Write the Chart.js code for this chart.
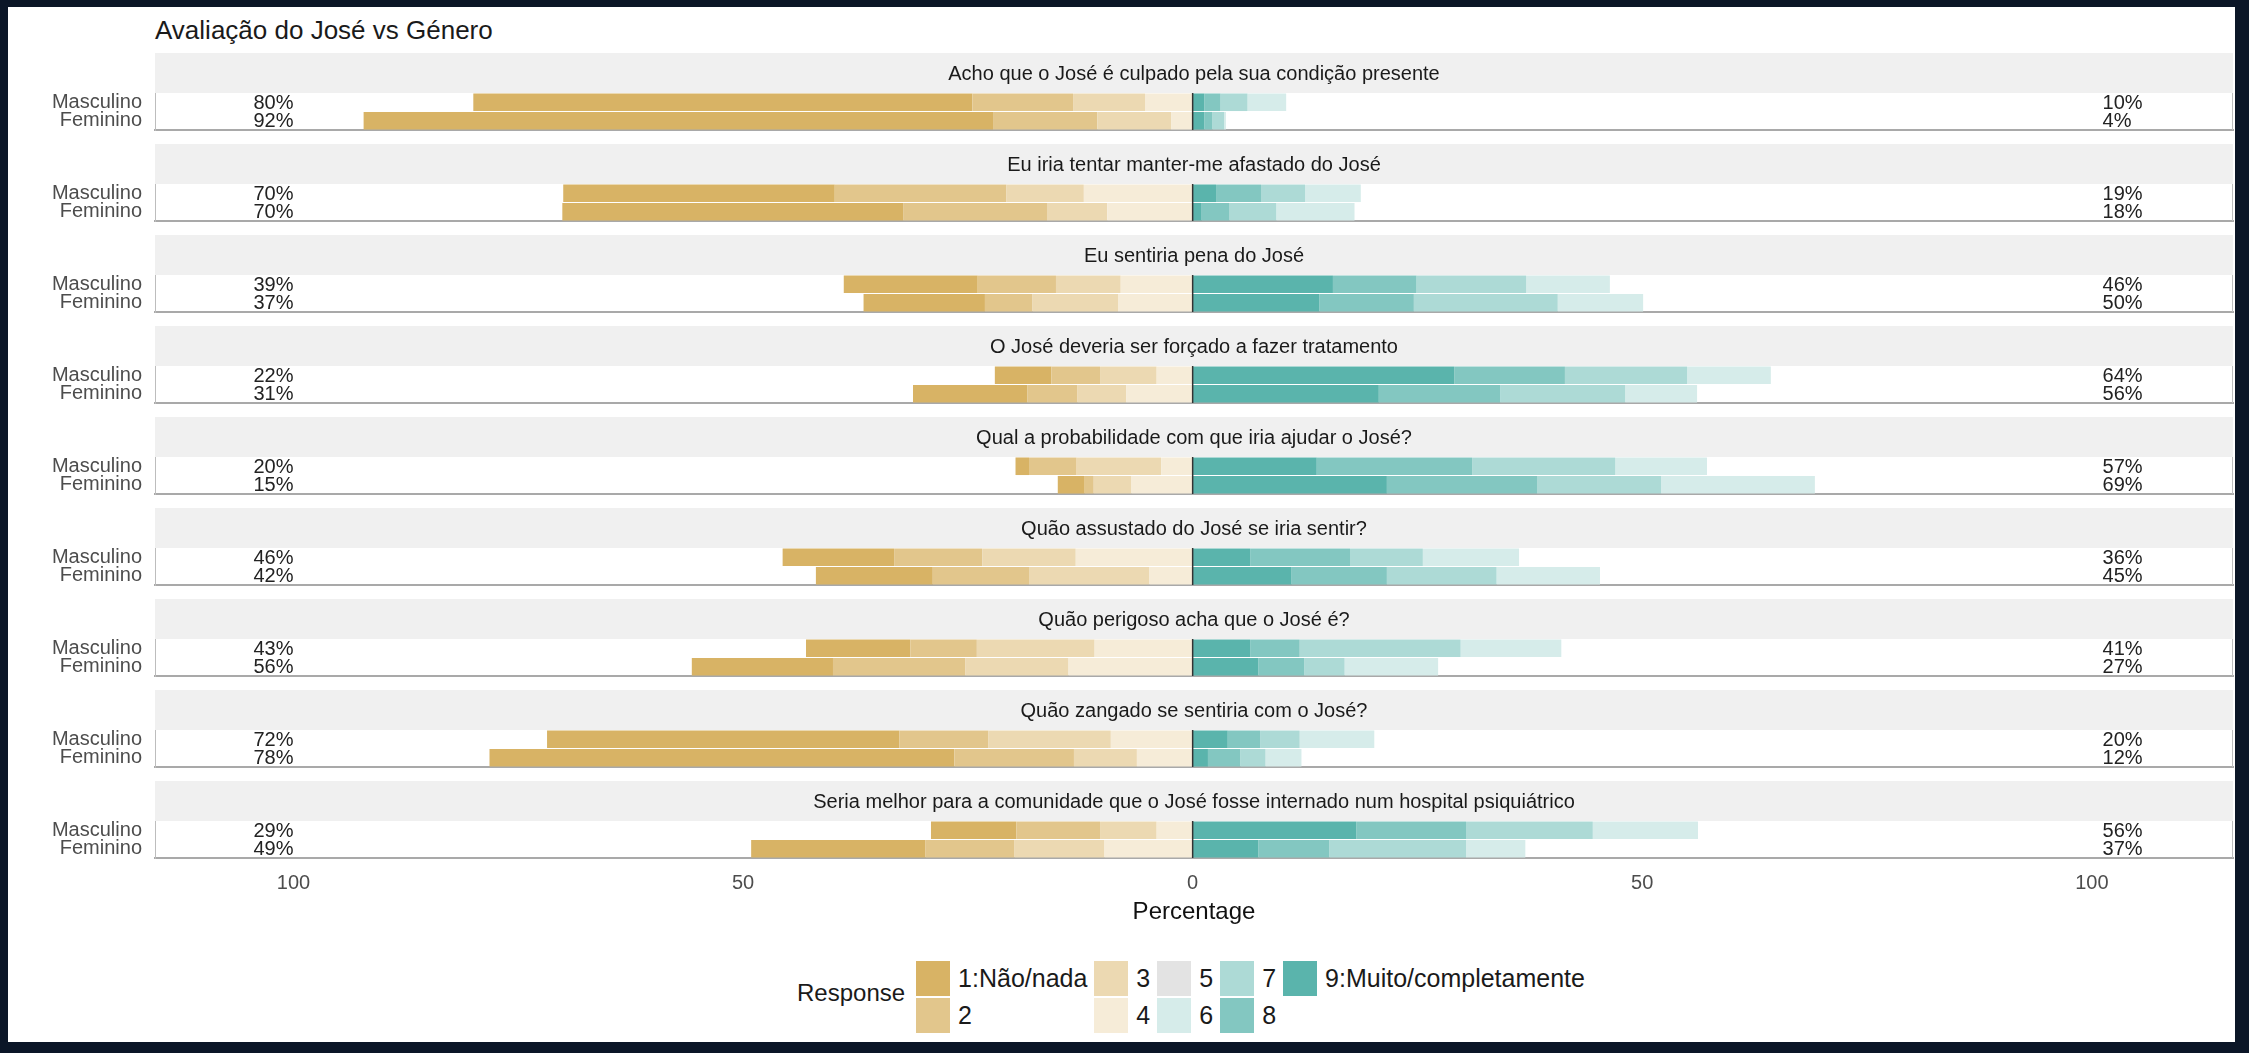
<!DOCTYPE html>
<html>
<head>
<meta charset="utf-8">
<title>Avaliação do José vs Género</title>
<script src="https://cdn.jsdelivr.net/npm/chart.js@4.4.1/dist/chart.umd.min.js"></script>
<style>
  html, body { margin: 0; padding: 0; }
  body {
    width: 2249px; height: 1053px; overflow: hidden; position: relative;
    background: #0b1627;
    font-family: "Liberation Sans", Arial, sans-serif;
  }
  #sheet { position: absolute; left: 8px; top: 7px; width: 2227px; height: 1035px; background: #fff; }
  #title { position: absolute; left: 155px; top: 17px; font-size: 26px; line-height: 26px; color: #1a1a1a; white-space: nowrap; }
  .panel { position: absolute; left: 0; width: 2249px; }
  #legend { position: absolute; left: 797px; top: 960px; display: flex; align-items: flex-start; color: #1a1a1a; }
  #legend .ltitle { font-size: 24px; line-height: 28px; margin-right: 11px; margin-top: 19px; }
  #legend .lcol { display: flex; flex-direction: column; margin-right: 7px; }
  #legend .litem { display: flex; align-items: center; height: 37px; font-size: 25px; }
  #legend .lkey { width: 34px; height: 35px; margin-right: 8px; }
</style>
</head>
<body>
<div id="sheet"></div>
<div id="title">Avaliação do José vs Género</div>
<div id="legend"><div class="ltitle">Response</div></div>

<script>
const items = [
  'Acho que o José é culpado pela sua condição presente',
  'Eu iria tentar manter-me afastado do José',
  'Eu sentiria pena do José',
  'O José deveria ser forçado a fazer tratamento',
  'Qual a probabilidade com que iria ajudar o José?',
  'Quão assustado do José se iria sentir?',
  'Quão perigoso acha que o José é?',
  'Quão zangado se sentiria com o José?',
  'Seria melhor para a comunidade que o José fosse internado num hospital psiquiátrico'
];
const genders = ['Masculino', 'Feminino'];
const levels = ['1:Não/nada', '2', '3', '4', '5', '6', '7', '8', '9:Muito/completamente'];
const levelColors = ['#D8B365', '#E2C68C', '#ECD9B2', '#F6ECD8', '#E3E3E3', '#D6ECEA', '#ADDAD6', '#83C7C1', '#5AB4AC'];

// % of answers per item, Masculino then Feminino (neutral 5 is not drawn)
const resp1 = [55.5, 70.0, 30.2, 37.9, 14.9, 13.5, 6.3, 12.7, 1.5, 3.0, 12.4, 13.0, 11.6, 15.7, 39.2, 51.7, 9.5, 19.4];
const resp2 = [11.2, 11.6, 19.1, 16.0, 8.7, 5.3, 5.4, 5.6, 5.3, 1.0, 9.8, 10.7, 7.4, 14.7, 9.9, 13.3, 9.3, 9.9];
const resp3 = [8.0, 8.2, 8.6, 6.7, 7.2, 9.5, 6.3, 5.4, 9.4, 4.2, 10.4, 13.4, 13.1, 11.5, 13.6, 7.0, 6.3, 10.0];
const resp4 = [5.3, 2.4, 12.1, 9.5, 8.0, 8.3, 4.0, 7.4, 3.5, 6.8, 13.0, 4.8, 10.9, 13.8, 9.1, 6.2, 4.0, 9.8];
const resp6 = [4.3, 0.2, 6.2, 8.7, 9.3, 9.5, 9.3, 8.0, 10.2, 17.1, 10.7, 11.5, 11.2, 10.4, 8.3, 4.0, 11.7, 6.6];
const resp7 = [3.0, 1.3, 4.9, 5.2, 12.2, 16.0, 13.6, 13.9, 15.9, 13.8, 8.1, 12.2, 17.9, 4.5, 4.4, 2.8, 14.1, 15.2];
const resp8 = [1.8, 0.9, 5.0, 3.1, 9.3, 10.5, 12.3, 13.5, 17.3, 16.7, 11.1, 10.6, 5.5, 5.1, 3.6, 3.6, 12.2, 7.9];
const resp9 = [1.3, 1.3, 2.6, 1.0, 15.6, 14.1, 29.1, 20.7, 13.8, 21.6, 6.4, 11.0, 6.4, 7.3, 3.9, 1.7, 18.2, 7.3];

const xTicks = [-100, -50, 0, 50, 100];

// stacked outward from zero
const lowSide = [resp4, resp3, resp2, resp1];
const lowLevels = [3, 2, 1, 0];
const highSide = [resp9, resp8, resp7, resp6];
const highLevels = [8, 7, 6, 5];

const FONT = '"Liberation Sans", Arial, sans-serif';
const STRIP_H = 40;
const PLOT_H = 37;
const X_MIN = -115.4, X_MAX = 115.7;

const stripPlugin = {
  id: 'strip',
  beforeDraw(chart, args, opts) {
    const { ctx, chartArea: a } = chart;
    ctx.save();
    ctx.fillStyle = '#f0f0f0';
    ctx.fillRect(a.left, a.top - STRIP_H, a.right - a.left, STRIP_H);
    ctx.fillStyle = '#1a1a1a';
    ctx.font = '20px ' + FONT;
    ctx.textAlign = 'center';
    ctx.textBaseline = 'middle';
    ctx.fillText(opts.text, (a.left + a.right) / 2, a.top - STRIP_H / 2 + 1);
    ctx.restore();
  }
};

const labelPlugin = {
  id: 'pctLabels',
  afterDatasetsDraw(chart, args, opts) {
    const { ctx, chartArea: a, scales: { x, y } } = chart;
    ctx.save();
    const x0 = x.getPixelForValue(0);
    ctx.strokeStyle = '#333';
    ctx.lineWidth = 1.5;
    ctx.beginPath(); ctx.moveTo(x0, a.top); ctx.lineTo(x0, a.bottom); ctx.stroke();
    ctx.strokeStyle = '#bdbdbd';
    ctx.lineWidth = 1;
    ctx.beginPath(); ctx.moveTo(a.right - 0.5, a.top); ctx.lineTo(a.right - 0.5, a.bottom); ctx.stroke();

    ctx.font = '20px ' + FONT;
    ctx.fillStyle = '#222';
    ctx.textBaseline = 'middle';
    genders.forEach((g, j) => {
      const k = 2 * opts.item + j;
      const low = resp1[k] + resp2[k] + resp3[k] + resp4[k];
      const high = resp6[k] + resp7[k] + resp8[k] + resp9[k];
      const yy = y.getPixelForValue(j) + 1;
      ctx.textAlign = 'right';
      ctx.fillText(Math.round(low) + '%', x.getPixelForValue(-100), yy);
      ctx.textAlign = 'left';
      ctx.fillText(Math.round(high) + '%', x.getPixelForValue(101.2), yy);
    });
    ctx.restore();
  }
};

function makePanel(i) {
  const last = i === items.length - 1;
  const top = 53 + 91 * i;
  const height = last ? 150 : 80;

  const wrap = document.createElement('div');
  wrap.className = 'panel';
  wrap.style.top = top + 'px';
  wrap.style.height = height + 'px';
  const canvas = document.createElement('canvas');
  wrap.appendChild(canvas);
  document.body.appendChild(wrap);

  const datasets = [];
  lowSide.forEach((arr, n) => datasets.push({
    label: levels[lowLevels[n]],
    data: genders.map((g, j) => -arr[2 * i + j]),
    backgroundColor: levelColors[lowLevels[n]]
  }));
  highSide.forEach((arr, n) => datasets.push({
    label: levels[highLevels[n]],
    data: genders.map((g, j) => arr[2 * i + j]),
    backgroundColor: levelColors[highLevels[n]]
  }));

  new Chart(canvas, {
    type: 'bar',
    data: { labels: genders, datasets: datasets },
    options: {
      indexAxis: 'y',
      responsive: true,
      maintainAspectRatio: false,
      animation: false,
      events: [],
      layout: { padding: { top: STRIP_H, right: 16, bottom: 0, left: 0 } },
      datasets: { bar: { barPercentage: 0.95, categoryPercentage: 1, borderWidth: 0 } },
      plugins: {
        legend: { display: false },
        tooltip: { enabled: false },
        strip: { text: items[i] },
        pctLabels: { item: i }
      },
      scales: {
        x: {
          stacked: true,
          min: X_MIN,
          max: X_MAX,
          afterBuildTicks: (s) => { s.ticks = xTicks.map(v => ({ value: v })); },
          afterFit: (s) => { s.height = height - STRIP_H - PLOT_H; },
          grid: { display: false, drawTicks: false },
          border: { display: true, color: '#a9a9a9', width: 2 },
          ticks: {
            display: last,
            padding: 13,
            color: '#4d4d4d',
            font: { family: FONT, size: 20 },
            callback: (v) => Math.abs(v)
          },
          title: {
            display: last,
            text: 'Percentage',
            color: '#111',
            font: { family: FONT, size: 24 },
            padding: { top: 0, bottom: 4 }
          }
        },
        y: {
          stacked: true,
          afterFit: (s) => { s.width = 155; s.paddingTop = 0; s.paddingBottom = 0; },
          grid: { display: false, drawTicks: false },
          border: { display: true, color: '#bdbdbd', width: 1 },
          ticks: { autoSkip: false, padding: 13, color: '#4d4d4d', font: { family: FONT, size: 20 } }
        }
      }
    },
    plugins: [stripPlugin, labelPlugin]
  });
}

items.forEach((t, i) => makePanel(i));

// legend, two rows filled column by column
const legend = document.getElementById('legend');
for (let c = 0; c < levels.length; c += 2) {
  const col = document.createElement('div');
  col.className = 'lcol';
  [c, c + 1].filter(n => n < levels.length).forEach(n => {
    const it = document.createElement('div');
    it.className = 'litem';
    const key = document.createElement('div');
    key.className = 'lkey';
    key.style.background = levelColors[n];
    const txt = document.createElement('span');
    txt.textContent = levels[n];
    it.appendChild(key);
    it.appendChild(txt);
    col.appendChild(it);
  });
  legend.appendChild(col);
}
</script>
</body>
</html>
